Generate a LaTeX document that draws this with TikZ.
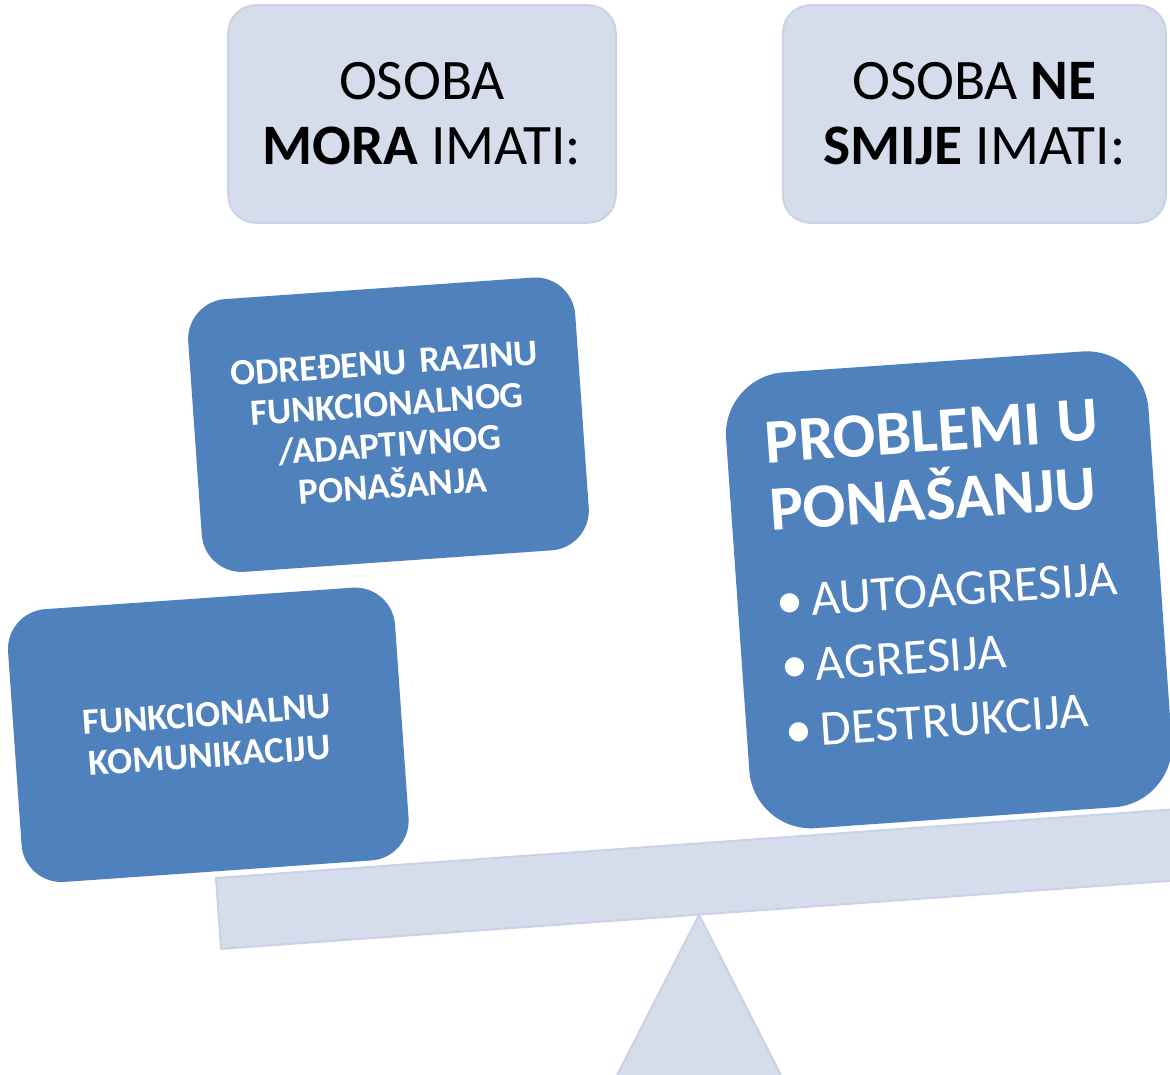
\documentclass[tikz,border=0pt]{standalone}
\usepackage{fontspec}
\setmainfont{Carlito}
\definecolor{boxblue}{HTML}{4F81BD}
\definecolor{paleblue}{HTML}{D5DCEB}
\definecolor{paleline}{HTML}{CAD3E6}

\begin{document}
\begin{tikzpicture}[x=0.02cm, y=-0.02cm, node distance={11.05cm},
    head/.style = {draw=paleline, fill=paleblue, line width=1.2pt, rounded corners=0.55cm, minimum width=7.75cm, minimum height=4.35cm, align=center, font=\fontsize{32.6pt}{37pt}\selectfont},
    main/.style = {fill=boxblue, text=white, rounded corners=0.8cm, minimum width=7.76cm, minimum height=5.47cm, text width=6.8cm, align=center, rotate=4, font=\fontsize{21pt}{23.4pt}\selectfont\bfseries},
    bar/.style = {draw=paleline, fill=paleblue, line width=1.2pt}]

        \useasboundingbox (0,0) rectangle (1170,1075);
        \clip (0,0) rectangle (1170,1075);

        % scales
        \draw[bar] (699,915) -- (589,1130) -- (809,1130) -- cycle;
        \draw[bar, rotate around={4.1:(216,878)}] (216,878) rectangle ++(1100,71);

        \node[head] (1) at (422,114) {OSOBA\\\textbf{MORA} IMATI:};
        \node[head, minimum width=7.66cm] (2) [right of=1] {OSOBA \textbf{NE}\\\textbf{SMIJE} IMATI:};

        \node[main] (3) at (388.5,424.7) {ODREĐENU RAZINU\\FUNKCIONALNOG\\/ADAPTIVNOG\\PONAŠANJA};
        \node[main] (4) at (208.3,734.8) {FUNKCIONALNU\\KOMUNIKACIJU};
        \node[main, rounded corners=1.24cm, minimum width=8.47cm, minimum height=9.14cm, text width=6.92cm, align=left, font=\fontsize{28.5pt}{37pt}\selectfont] (5) at (948.9,589.8) {%
            {\bfseries\fontsize{35.9pt}{38.7pt}\selectfont PROBLEMI U\\PONAŠANJU\par}
            \vspace{12.8pt}
            \makebox[0.7cm][l]{\raisebox{-0.5pt}{\fontsize{31pt}{37pt}\selectfont •}}AUTOAGRESIJA\\
            \makebox[0.7cm][l]{\raisebox{-0.5pt}{\fontsize{31pt}{37pt}\selectfont •}}AGRESIJA\\
            \makebox[0.7cm][l]{\raisebox{-0.5pt}{\fontsize{31pt}{37pt}\selectfont •}}DESTRUKCIJA\rule[-0.68cm]{0pt}{0pt}};

    \end{tikzpicture}
\end{document}
